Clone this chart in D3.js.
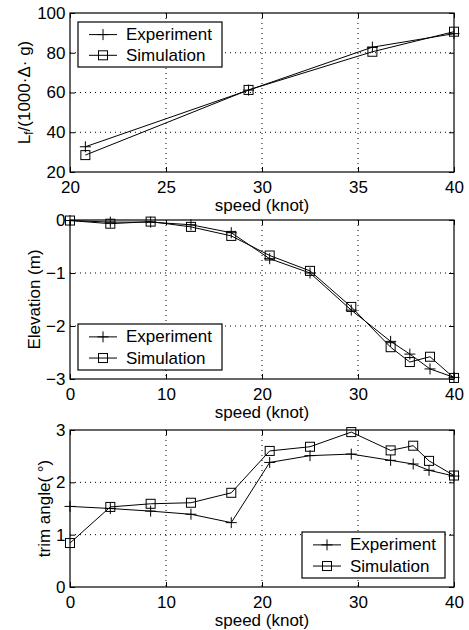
<!DOCTYPE html>
<html>
<head>
<meta charset="utf-8">
<script src="https://cdn.jsdelivr.net/npm/d3@7"></script>
<style>
  body { margin: 0; background: #fff; }
  svg { display: block; }
  text { font-family: "Liberation Sans", Arial, Helvetica, sans-serif; fill: #000; }
</style>
</head>
<body>
<svg id="chart" width="469" height="630"></svg>
<script>
// ---------- data ----------
const liftSpeed = [20.8, 29.3, 35.75, 40];
const liftExperiment = [32.7, 61.2, 82.8, 89.6];
const liftSimulation = [28.5, 61.3, 80.5, 90.6];

const elevSpeed = [0, 4.2, 8.4, 12.6, 16.8, 20.8, 25, 29.3, 33.4, 35.4, 37.5, 40];
const elevExperiment = [-0.01, -0.04, -0.04, -0.09, -0.24, -0.73, -1.0, -1.7, -2.29, -2.53, -2.81, -2.97];
const elevSimulation = [-0.01, -0.07, -0.03, -0.13, -0.3, -0.67, -0.96, -1.64, -2.4, -2.68, -2.58, -2.98];

const trimSpeed = [0, 4.2, 8.4, 12.6, 16.8, 20.8, 25, 29.3, 33.4, 35.75, 37.4, 40];
const trimExperiment = [1.54, 1.5, 1.45, 1.39, 1.23, 2.38, 2.51, 2.54, 2.42, 2.35, 2.23, 2.12];
const trimSimulation = [0.84, 1.53, 1.59, 1.61, 1.8, 2.6, 2.68, 2.96, 2.61, 2.7, 2.41, 2.13];

const liftXTicks = [20, 25, 30, 35, 40];
const liftYTicks = [20, 40, 60, 80, 100];
const elevXTicks = [0, 10, 20, 30, 40];
const elevYTicks = [-3, -2, -1, 0];
const trimXTicks = [0, 10, 20, 30, 40];
const trimYTicks = [0, 1, 2, 3];

const seriesNames = ["Experiment", "Simulation"];
const xLabel = "speed (knot)";

// ---------- drawing ----------
const svg = d3.select("#chart");
const FS = 17;
const left = 70, right = 454;

function plus(g, x, y) {
  const h = 5.5;
  g.append("path").attr("d", `M${x - h},${y}H${x + h}M${x},${y - h}V${y + h}`)
    .attr("stroke", "#000").attr("stroke-width", 1).attr("fill", "none");
}
function square(g, x, y) {
  const h = 4.5;
  g.append("rect").attr("x", x - h).attr("y", y - h).attr("width", 2 * h).attr("height", 2 * h)
    .attr("stroke", "#000").attr("stroke-width", 1).attr("fill", "none");
}

function panel(cfg) {
  const g = svg.append("g");
  const x = d3.scaleLinear().domain(cfg.xDomain).range([left, right]);
  const y = d3.scaleLinear().domain(cfg.yDomain).range([cfg.bottom, cfg.top]);

  // grid
  const grid = g.append("g").attr("stroke", "#000").attr("stroke-width", 1)
    .attr("stroke-dasharray", "1,4");
  cfg.xTicks.slice(1, -1).forEach(t => {
    grid.append("line").attr("x1", x(t)).attr("x2", x(t)).attr("y1", cfg.top).attr("y2", cfg.bottom);
  });
  cfg.yTicks.slice(1, -1).forEach(t => {
    grid.append("line").attr("x1", left).attr("x2", right).attr("y1", y(t)).attr("y2", y(t));
  });

  // axes (ticks inward, labels via d3 axis)
  const xAxis = d3.axisBottom(x).tickValues(cfg.xTicks).tickSize(-5).tickPadding(8.5)
    .tickFormat(d => String(d).replace("-", "\u2212"));
  const yAxis = d3.axisLeft(y).tickValues(cfg.yTicks).tickSize(-5).tickPadding(4.5)
    .tickFormat(d => String(d).replace("-", "\u2212"));
  const xa = g.append("g").attr("transform", `translate(0,${cfg.bottom})`).call(xAxis);
  const ya = g.append("g").attr("transform", `translate(${left},0)`).call(yAxis);
  const xt = g.append("g").attr("transform", `translate(0,${cfg.top})`)
    .call(d3.axisTop(x).tickValues(cfg.xTicks).tickSize(-5).tickFormat(""));
  const yr = g.append("g").attr("transform", `translate(${right},0)`)
    .call(d3.axisRight(y).tickValues(cfg.yTicks).tickSize(-5).tickFormat(""));
  [xa, ya, xt, yr].forEach(a => {
    a.select(".domain").remove();
    a.selectAll("line").attr("stroke", "#000");
    a.selectAll("text").attr("font-size", FS).attr("font-family", "Liberation Sans, Arial, sans-serif").attr("fill", "#000");
  });

  // frame
  g.append("rect").attr("x", left).attr("y", cfg.top).attr("width", right - left)
    .attr("height", cfg.bottom - cfg.top).attr("fill", "none").attr("stroke", "#000").attr("stroke-width", 1.2);

  // series
  const line = d3.line().x(d => x(d[0])).y(d => y(d[1]));
  const exp = cfg.speed.map((s, i) => [s, cfg.exp[i]]);
  const sim = cfg.speed.map((s, i) => [s, cfg.sim[i]]);
  [exp, sim].forEach(d => {
    g.append("path").datum(d).attr("d", line).attr("fill", "none")
      .attr("stroke", "#000").attr("stroke-width", 1);
  });
  exp.forEach(d => plus(g, x(d[0]), y(d[1])));
  sim.forEach(d => square(g, x(d[0]), y(d[1])));

  // x label
  g.append("text").attr("x", (left + right) / 2).attr("y", cfg.bottom + 39)
    .attr("text-anchor", "middle")
    .attr("font-size", FS).text(xLabel);

  // y label
  const yl = g.append("text").attr("transform", `translate(${cfg.ylx},${(cfg.top + cfg.bottom) / 2}) rotate(-90)`)
    .attr("text-anchor", "middle").attr("dominant-baseline", "central").attr("font-size", FS);
  cfg.ylabel(yl);

  // legend
  const L = cfg.legend;
  g.append("rect").attr("x", L.x).attr("y", L.y).attr("width", L.w).attr("height", L.h)
    .attr("fill", "#fff").attr("stroke", "#000").attr("stroke-width", 1.2);
  const rows = [L.y + L.h * 0.28, L.y + L.h * 0.74];
  seriesNames.forEach((name, i) => {
    const ry = rows[i];
    g.append("line").attr("x1", L.x + 11).attr("x2", L.x + 39).attr("y1", ry).attr("y2", ry)
      .attr("stroke", "#000").attr("stroke-width", 1);
    if (i === 0) plus(g, L.x + 25, ry); else square(g, L.x + 25, ry);
    g.append("text").attr("x", L.x + 48).attr("y", ry).attr("dominant-baseline", "central")
      .attr("font-size", FS).text(name);
  });
}

panel({
  top: 13, bottom: 172, xDomain: [20, 40], yDomain: [20, 100],
  xTicks: liftXTicks, yTicks: liftYTicks,
  speed: liftSpeed, exp: liftExperiment, sim: liftSimulation,
  ylx: 24,
  ylabel: t => {
    t.append("tspan").text("L");
    t.append("tspan").attr("font-size", 12).attr("dy", 5).text("f");
    t.append("tspan").attr("dy", -5).text("/(1000\u00b7\u0394\u00b7 g)");
  },
  legend: { x: 78, y: 22, w: 144, h: 45 }
});

panel({
  top: 220, bottom: 379, xDomain: [0, 40], yDomain: [-3, 0],
  xTicks: elevXTicks, yTicks: elevYTicks,
  speed: elevSpeed, exp: elevExperiment, sim: elevSimulation,
  ylx: 34,
  ylabel: t => t.text("Elevation (m)"),
  legend: { x: 78, y: 324, w: 144, h: 46 }
});

panel({
  top: 430, bottom: 587, xDomain: [0, 40], yDomain: [0, 3],
  xTicks: trimXTicks, yTicks: trimYTicks,
  speed: trimSpeed, exp: trimExperiment, sim: trimSimulation,
  ylx: 44,
  ylabel: t => t.text("trim angle( \u00b0)"),
  legend: { x: 302, y: 532, w: 143, h: 46 }
});
</script>
</body>
</html>
